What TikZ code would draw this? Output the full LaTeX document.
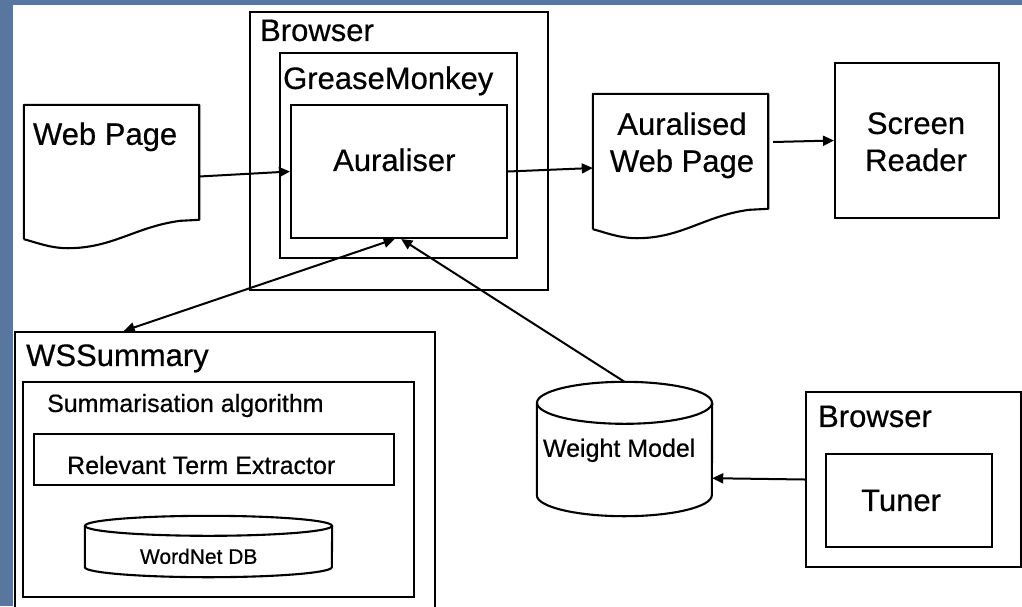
\documentclass[tikz,border=0pt]{standalone}
\usepackage{fontspec}
\setmainfont{Liberation Sans}[FakeBold=0.5]
\usepackage{tikz}
\usetikzlibrary{calc}
\usetikzlibrary{positioning}
\usetikzlibrary{arrows.meta}

\definecolor{slideblue}{RGB}{88,118,158}

\tikzset{
  box/.style={draw,line width=2.1pt,inner sep=0pt},
  area/.style={inner sep=0pt},
  lbl/.style={anchor=base west,inner sep=0pt,font=\fontsize{31}{37}\selectfont},
  mid lbl/.style={anchor=base west,inner sep=0pt,font=\fontsize{25}{30}\selectfont},
  small lbl/.style={anchor=base west,inner sep=0pt,font=\fontsize{21}{25}\selectfont},
  ctr lbl/.style={anchor=base,inner sep=0pt,font=\fontsize{31}{37}\selectfont},
  arr/.style={-{Triangle[length=11pt,width=10pt]},line width=2pt},
  twoway/.style={{Triangle[length=11pt,width=10pt]}-{Triangle[length=11pt,width=10pt]},line width=2pt}
}

% page outline with wavy bottom
\newcommand{\docline}[1]{%
  \draw[line width=2.1pt,line join=round] ($(#1.south west)+(0,-9)$) -- (#1.north west) -- (#1.north east)
    -- ($(#1.north east)+(0,115)$) -- ($(#1.north east)+(-19,116)$)
    .. controls +(-45,6) and +(45,0) .. ($(#1.south west)+(44,0)$)
    .. controls +(-18,0) and +(12,3) .. ($(#1.south west)+(0,-9)$);}

% database drum
\newcommand{\drumline}[3]{%
  \draw[line width=2.1pt] ($(#1.north west)+(0,#3)$) -- ($(#1.south west)+(0,-#3)$)
    arc[start angle=180,end angle=360,x radius=#2pt,y radius=#3pt] -- ($(#1.north east)+(0,#3)$);
  \draw[line width=2.1pt] ($(#1.north)+(0,#3)$) ellipse[x radius=#2pt,y radius=#3pt];}

\begin{document}
\begin{tikzpicture}[x=1pt,y=-1pt]

\useasboundingbox (0,0) rectangle (1022,606);
\clip (0,0) rectangle (1022,606);
\fill[slideblue] (0,0) rectangle (1022,606);
\fill[white] (13,5) rectangle (1022,606);

% browser with the plug-in
\node[box,minimum width=298pt,minimum height=278pt] (browser) at (399,151) {};
\node[box,minimum width=237pt,minimum height=205pt] (grease) at (398.5,155.5) {};
\node[box,minimum width=216pt,minimum height=133pt] (auraliser) at (399,171.5) {};
\node[lbl] (browser title) at ($(browser.north west)+(11,30)$) {Browser};
\node[lbl] (grease title) at ($(grease.north west)+(4,37)$) {GreaseMonkey};
\node[lbl] (auraliser text) at ($(auraliser.north west)+(43,67)$) {Auraliser};

% pages
\node[area,minimum width=175pt,minimum height=143pt] (webpage) at (111.5,176.5) {};
\docline{webpage}
\node[lbl] (webpage text) at ($(webpage.north west)+(9,40)$) {Web Page};

\node[area,minimum width=175pt,minimum height=144pt] (aurpage) at (680.5,166) {};
\docline{aurpage}
\node[ctr lbl] (aurpage text a) at ($(aurpage.north)+(1.5,41)$) {Auralised};
\node[ctr lbl] (aurpage text b) at ($(aurpage.north)+(1.5,78)$) {Web Page};

\node[box,minimum width=164pt,minimum height=155pt] (reader) at (917,140.5) {};
\node[ctr lbl] (reader text a) at ($(reader.north)+(-1,72)$) {Screen};
\node[ctr lbl] (reader text b) at ($(reader.north)+(-1,109)$) {Reader};

% summary service
\node[box,minimum width=420pt,minimum height=298pt] (summary) at (225,481) {};
\node[box,minimum width=391pt,minimum height=215pt] (algorithm) at (218.5,489.5) {};
\node[box,minimum width=360pt,minimum height=51pt] (extractor) at (214,459.5) {};
\node[area,minimum width=247pt,minimum height=61pt] (wordnet) at (208.5,546.5) {};
\drumline{wordnet}{123.5}{10}
\node[lbl] (summary title) at ($(summary.north west)+(12,35)$) {WSSummary};
\node[mid lbl] (algorithm title) at ($(algorithm.north west)+(25,31)$) {Summarisation algorithm};
\node[mid lbl] (extractor text) at ($(extractor.north west)+(34,41)$) {Relevant Term Extractor};
\node[small lbl] (wordnet text) at ($(wordnet.north west)+(55,48)$) {WordNet DB};

% weight model and tuner
\node[area,minimum width=175pt,minimum height=134pt] (weights) at (624.5,449) {};
\drumline{weights}{87.5}{21}
\node[mid lbl] (weights text) at ($(weights.north west)+(6,75)$) {Weight Model};

\node[box,minimum width=215pt,minimum height=175pt] (browser2) at (913.5,479.5) {};
\node[box,minimum width=166pt,minimum height=93pt] (tuner) at (909,500.5) {};
\node[lbl] (browser2 title) at ($(browser2.north west)+(13,36)$) {Browser};
\node[lbl] (tuner text) at ($(tuner.north west)+(36,58)$) {Tuner};

\coordinate (aur in a) at ($(auraliser.south west)!0.48!(auraliser.south east)$);
\coordinate (aur in b) at ($(auraliser.south west)!0.51!(auraliser.south east)$);
\coordinate (summary in) at ($(summary.north west)!0.26!(summary.north east)$);
\coordinate (aurpage out) at ($(aurpage.east)+(5,-24)$);
\coordinate (weights in) at ($(weights.south east)+(0,-38)$);

\draw[arr] (webpage.east) -- (auraliser.west);
\draw[arr] (auraliser.east) -- ($(aurpage.west)+(0,2)$);
\draw[arr] (aurpage out) -- (reader.west);
\draw[twoway] (summary in) -- (aur in a);
\draw[arr] (weights.north) -- (aur in b);
\draw[arr] (browser2.west) -- (weights in);

\end{tikzpicture}
\end{document}
